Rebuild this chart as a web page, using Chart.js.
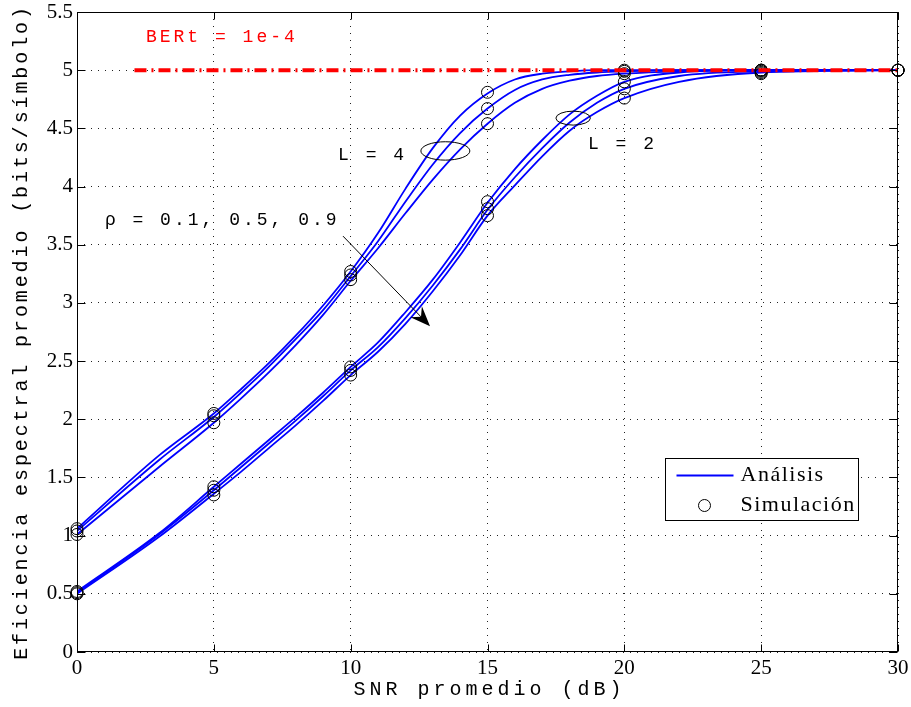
<!DOCTYPE html>
<html>
<head>
<meta charset="utf-8">
<script src="https://cdn.jsdelivr.net/npm/chart.js@4.4.0/dist/chart.umd.min.js"></script>
<style>
  html, body { margin: 0; padding: 0; background: #fff; }
  canvas { display: block; }
</style>
</head>
<body>
<canvas id="effChart" width="911" height="707"></canvas>
<script>
// SNR points (dB) where the analytic curves were read
const analysisSnr = [0, 3, 5, 6, 7, 8, 9, 10, 11, 12, 13, 14, 15, 16, 17, 18, 19, 20, 22, 25, 30];

// L = 4, analytic
const anaL4Rho01 = [1.06, 1.69, 2.05, 2.26, 2.48, 2.72, 2.98, 3.27, 3.60, 3.98, 4.33, 4.61, 4.80, 4.92, 4.97, 4.99, 5.00, 5.00, 5.00, 5.00, 5.00];
const anaL4Rho05 = [1.04, 1.65, 2.02, 2.23, 2.45, 2.69, 2.94, 3.23, 3.53, 3.87, 4.19, 4.46, 4.67, 4.83, 4.92, 4.96, 4.98, 4.99, 5.00, 5.00, 5.00];
const anaL4Rho09 = [1.01, 1.59, 1.97, 2.18, 2.40, 2.64, 2.90, 3.19, 3.47, 3.77, 4.06, 4.32, 4.54, 4.72, 4.84, 4.91, 4.95, 4.97, 4.99, 5.00, 5.00];

// L = 2, analytic
const anaL2Rho01 = [0.52, 1.02, 1.42, 1.62, 1.82, 2.02, 2.23, 2.45, 2.66, 2.92, 3.20, 3.52, 3.86, 4.15, 4.40, 4.62, 4.78, 4.90, 4.98, 5.00, 5.00];
const anaL2Rho05 = [0.51, 1.01, 1.39, 1.59, 1.79, 1.99, 2.20, 2.42, 2.62, 2.87, 3.15, 3.46, 3.80, 4.08, 4.33, 4.55, 4.72, 4.84, 4.95, 4.99, 5.00];
const anaL2Rho09 = [0.50, 0.99, 1.36, 1.55, 1.75, 1.95, 2.16, 2.38, 2.58, 2.82, 3.10, 3.41, 3.75, 4.01, 4.26, 4.48, 4.64, 4.76, 4.90, 4.98, 5.00];

// simulation points
const simSnr = [0, 5, 10, 15, 20, 25, 30];
const simL4Rho01 = [1.06, 2.05, 3.27, 4.81, 5.00, 5.00, 5.00];
const simL4Rho05 = [1.04, 2.03, 3.24, 4.67, 4.99, 5.00, 5.00];
const simL4Rho09 = [1.01, 1.97, 3.20, 4.54, 4.97, 5.00, 5.00];
const simL2Rho01 = [0.52, 1.42, 2.45, 3.87, 4.90, 4.99, 5.00];
const simL2Rho05 = [0.51, 1.39, 2.42, 3.81, 4.84, 4.98, 5.00];
const simL2Rho09 = [0.50, 1.35, 2.38, 3.75, 4.76, 4.97, 5.00];

// target BER line
const berSnr = [2.1, 30];
const berEff = [5, 5];

// axis ticks
const xTickStep = 5;
const yTickStep = 0.5;

// annotations (in data units)
const notes = [
  { text: 'BERt = 1e-4', x: 2.52, y: 5.28, color: '#ff0000' },
  { text: 'L = 4', x: 9.54, y: 4.27, color: '#000' },
  { text: 'L = 2', x: 18.67, y: 4.36, color: '#000' },
  { text: '\u03c1 = 0.1, 0.5, 0.9', x: 1.02, y: 3.71, color: '#000' }
];
const ellipses = [
  { x: 13.46, y: 4.306, rx: 0.895, ry: 0.079 },
  { x: 18.13, y: 4.588, rx: 0.63, ry: 0.06 }
];
const arrow = { x1: 9.72, y1: 3.574, x2: 12.9, y2: 2.80 };

function pts(xs, ys) {
  return xs.map((x, i) => ({ x: x, y: ys[i] }));
}

const analysisSets = [anaL4Rho01, anaL4Rho05, anaL4Rho09, anaL2Rho01, anaL2Rho05, anaL2Rho09].map(v => ({
  data: pts(analysisSnr, v),
  borderColor: '#0000ff',
  borderWidth: 1.8,
  pointRadius: 0,
  cubicInterpolationMode: 'monotone',
  fill: false,
  order: 3
}));

const simSets = [simL4Rho01, simL4Rho05, simL4Rho09, simL2Rho01, simL2Rho05, simL2Rho09].map(v => ({
  data: pts(simSnr, v),
  showLine: false,
  pointStyle: 'circle',
  pointRadius: 6,
  pointBorderWidth: 1,
  pointBorderColor: '#000',
  pointBackgroundColor: 'rgba(0,0,0,0)',
  clip: false,
  order: 2
}));

const berSet = {
  data: pts(berSnr, berEff),
  borderColor: '#ff0000',
  borderWidth: 4,
  borderDash: [12, 5, 2, 5],
  pointRadius: 0,
  fill: false,
  order: 1
};

const extras = {
  id: 'extras',
  afterDraw(chart) {
    const ctx = chart.ctx;
    const a = chart.chartArea;
    const xs = chart.scales.x, ys = chart.scales.y;
    ctx.save();

    // box + inward ticks
    ctx.strokeStyle = '#000';
    ctx.lineWidth = 1;
    ctx.setLineDash([]);
    const L = Math.round(a.left) + 0.5, R = Math.round(a.right) - 0.5;
    const T = Math.round(a.top) + 0.5, B = Math.round(a.bottom) - 0.5;
    ctx.strokeRect(L, T, R - L, B - T);
    ctx.beginPath();
    xs.ticks.forEach(t => {
      const p = Math.round(xs.getPixelForValue(t.value)) + 0.5;
      ctx.moveTo(p, B); ctx.lineTo(p, B - 7);
      ctx.moveTo(p, T); ctx.lineTo(p, T + 7);
    });
    ys.ticks.forEach(t => {
      const p = Math.round(ys.getPixelForValue(t.value)) + 0.5;
      ctx.moveTo(L, p); ctx.lineTo(L + 8, p);
      ctx.moveTo(R, p); ctx.lineTo(R - 8, p);
    });
    ctx.stroke();

    // ellipses
    ellipses.forEach(e => {
      const cx = xs.getPixelForValue(e.x), cy = ys.getPixelForValue(e.y);
      const rx = xs.getPixelForValue(e.x + e.rx) - cx;
      const ry = cy - ys.getPixelForValue(e.y + e.ry);
      ctx.beginPath();
      ctx.ellipse(cx, cy, rx, ry, 0, 0, Math.PI * 2);
      ctx.stroke();
    });

    // arrow
    const sx = xs.getPixelForValue(arrow.x1), sy = ys.getPixelForValue(arrow.y1);
    const ex = xs.getPixelForValue(arrow.x2), ey = ys.getPixelForValue(arrow.y2);
    const ang = Math.atan2(ey - sy, ex - sx);
    const hl = 20, hw = 8;
    const ux = Math.cos(ang), uy = Math.sin(ang);
    ctx.beginPath();
    ctx.moveTo(sx, sy);
    ctx.lineTo(ex - ux * hl * 0.6, ey - uy * hl * 0.6);
    ctx.stroke();
    ctx.fillStyle = '#000';
    ctx.beginPath();
    ctx.moveTo(ex, ey);
    ctx.lineTo(ex - ux * hl - uy * hw, ey - uy * hl + ux * hw);
    ctx.lineTo(ex - ux * hl * 0.65, ey - uy * hl * 0.65);
    ctx.lineTo(ex - ux * hl + uy * hw, ey - uy * hl - ux * hw);
    ctx.closePath();
    ctx.fill();

    // text notes
    ctx.font = '18px "Liberation Mono"';
    ctx.letterSpacing = '3px';
    ctx.textBaseline = 'middle';
    ctx.textAlign = 'left';
    notes.forEach(n => {
      ctx.fillStyle = n.color;
      ctx.fillText(n.text, xs.getPixelForValue(n.x), ys.getPixelForValue(n.y));
    });

    // axis titles
    ctx.fillStyle = '#000';
    ctx.font = '20px "Liberation Mono"';
    ctx.letterSpacing = '4px';
    ctx.textAlign = 'center';
    ctx.fillText('SNR promedio (dB)', (a.left + a.right) / 2 + 2, 690);
    ctx.save();
    ctx.translate(22, (a.top + a.bottom) / 2);
    ctx.rotate(-Math.PI / 2);
    ctx.letterSpacing = '2.9px';
    ctx.fillText('Eficiencia espectral promedio (bits/s\u00edmbolo)', 0, 0);
    ctx.restore();

    // legend
    const bx = Math.round(a.right - 233) + 0.5, by = Math.round(a.top + 446) + 0.5;
    const bw = 193, bh = 62;
    ctx.fillStyle = '#fff';
    ctx.fillRect(bx, by, bw, bh);
    ctx.strokeStyle = '#000';
    ctx.lineWidth = 1;
    ctx.strokeRect(bx, by, bw, bh);
    ctx.strokeStyle = '#0000ff';
    ctx.lineWidth = 1.8;
    ctx.beginPath();
    ctx.moveTo(bx + 11, by + 17);
    ctx.lineTo(bx + 68, by + 17);
    ctx.stroke();
    ctx.strokeStyle = '#000';
    ctx.lineWidth = 1;
    ctx.beginPath();
    ctx.arc(bx + 39, by + 47, 6, 0, Math.PI * 2);
    ctx.stroke();
    ctx.fillStyle = '#000';
    ctx.font = '22px "Liberation Serif"';
    ctx.letterSpacing = '1.5px';
    ctx.textAlign = 'left';
    ctx.fillText('An\u00e1lisis', bx + 75, by + 17);
    ctx.fillText('Simulaci\u00f3n', bx + 75, by + 47);

    ctx.restore();
  }
};

new Chart(document.getElementById('effChart'), {
  type: 'line',
  data: { datasets: [berSet].concat(simSets, analysisSets) },
  options: {
    responsive: false,
    animation: false,
    events: [],
    layout: { autoPadding: false, padding: { top: 12, right: 13, left: 0, bottom: 0 } },
    plugins: { legend: { display: false }, tooltip: { enabled: false } },
    scales: {
      x: {
        type: 'linear',
        min: 0,
        max: 30,
        ticks: {
          stepSize: xTickStep,
          color: '#000',
          padding: 4,
          maxRotation: 0,
          font: { family: 'Liberation Serif', size: 21 }
        },
        grid: { color: '#222', lineWidth: 1, drawTicks: false },
        border: { display: false, dash: [1, 6] },
        afterFit: s => { s.height = 55; s.paddingLeft = 0; s.paddingRight = 0; }
      },
      y: {
        type: 'linear',
        min: 0,
        max: 5.5,
        ticks: {
          stepSize: yTickStep,
          color: '#000',
          padding: 4,
          font: { family: 'Liberation Serif', size: 21 },
          callback: v => String(Math.round(v * 10) / 10)
        },
        grid: { color: '#222', lineWidth: 1, drawTicks: false },
        border: { display: false, dash: [1, 6] },
        afterFit: s => { s.width = 77; s.paddingTop = 0; s.paddingBottom = 0; }
      }
    }
  },
  plugins: [extras]
});
</script>
</body>
</html>
